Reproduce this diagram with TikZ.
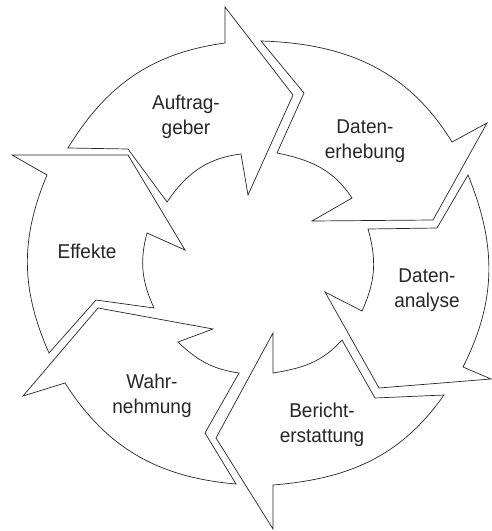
\documentclass[tikz,border=0pt]{standalone}
\usepackage{fontspec}
\setmainfont{Liberation Sans}[FakeStretch=0.95]
\usepackage{tikz}

\begin{document}
\begin{tikzpicture}[x=1pt,y=1pt,
    segment/.style={draw=black!85,line width=0.7pt,line join=miter},
    steptext/.style={align=center,font=\fontsize{20}{24.5}\selectfont,text=black!85}]
  \useasboundingbox (0,0) rectangle (492,-531);

  % the six bent arrows, clockwise from the top left
  \draw[segment] (68,-148) to[out=58.6,in=187.8] (225,-43) -- (225,-7) -- (293,-95)
    -- (248,-195) -- (241,-154) to[out=186.9,in=55.7] (167,-202) -- (128,-149) -- cycle;
  \draw[segment] (261,-41) to[out=-1.6,in=121.4] (452,-142) -- (487,-123) -- (433,-220)
    -- (312,-221) -- (352,-198) to[out=123.4,in=-11.4] (277,-153) -- (304,-93) -- cycle;
  \draw[segment] (468,-175) to[out=-67.8,in=63.2] (463,-367) -- (491,-379) -- (379,-388)
    -- (325,-292) -- (362,-311) to[out=65.4,in=-73.7] (368,-229) -- (437,-228) -- cycle;
  \draw[segment] (444,-395) to[out=-125.1,in=4.6] (273,-485) -- (273,-529) -- (216,-438)
    -- (273,-333) -- (273,-373) to[out=9.2,in=-131.9] (342,-340) -- (375,-398) -- cycle;
  \draw[segment] (236,-484) to[out=175.1,in=-57.5] (65,-383) -- (23,-396) -- (98,-308)
    -- (213,-329) -- (178,-342) to[out=-43.9,in=171.8] (239,-373) -- (205,-433) -- cycle;
  \draw[segment] (49,-353) to[out=113.8,in=247.3] (47,-175) -- (12,-155) -- (128,-155)
    -- (185,-250) -- (147,-233) to[out=255,in=114.5] (154,-308) -- (96,-300) -- cycle;

  \node[steptext] (auftraggeber) at (186,-117) {Auftrag-\\geber};
  \node[steptext] (erhebung) at (365,-141) {Daten-\\erhebung};
  \node[steptext] (analyse) at (427,-290) {Daten-\\analyse};
  \node[steptext] (bericht) at (322,-425) {Bericht-\\erstattung};
  \node[steptext] (wahrnehmung) at (152,-396) {Wahr-\\nehmung};
  \node[steptext] (effekte) at (87,-251) {Effekte};
\end{tikzpicture}
\end{document}
